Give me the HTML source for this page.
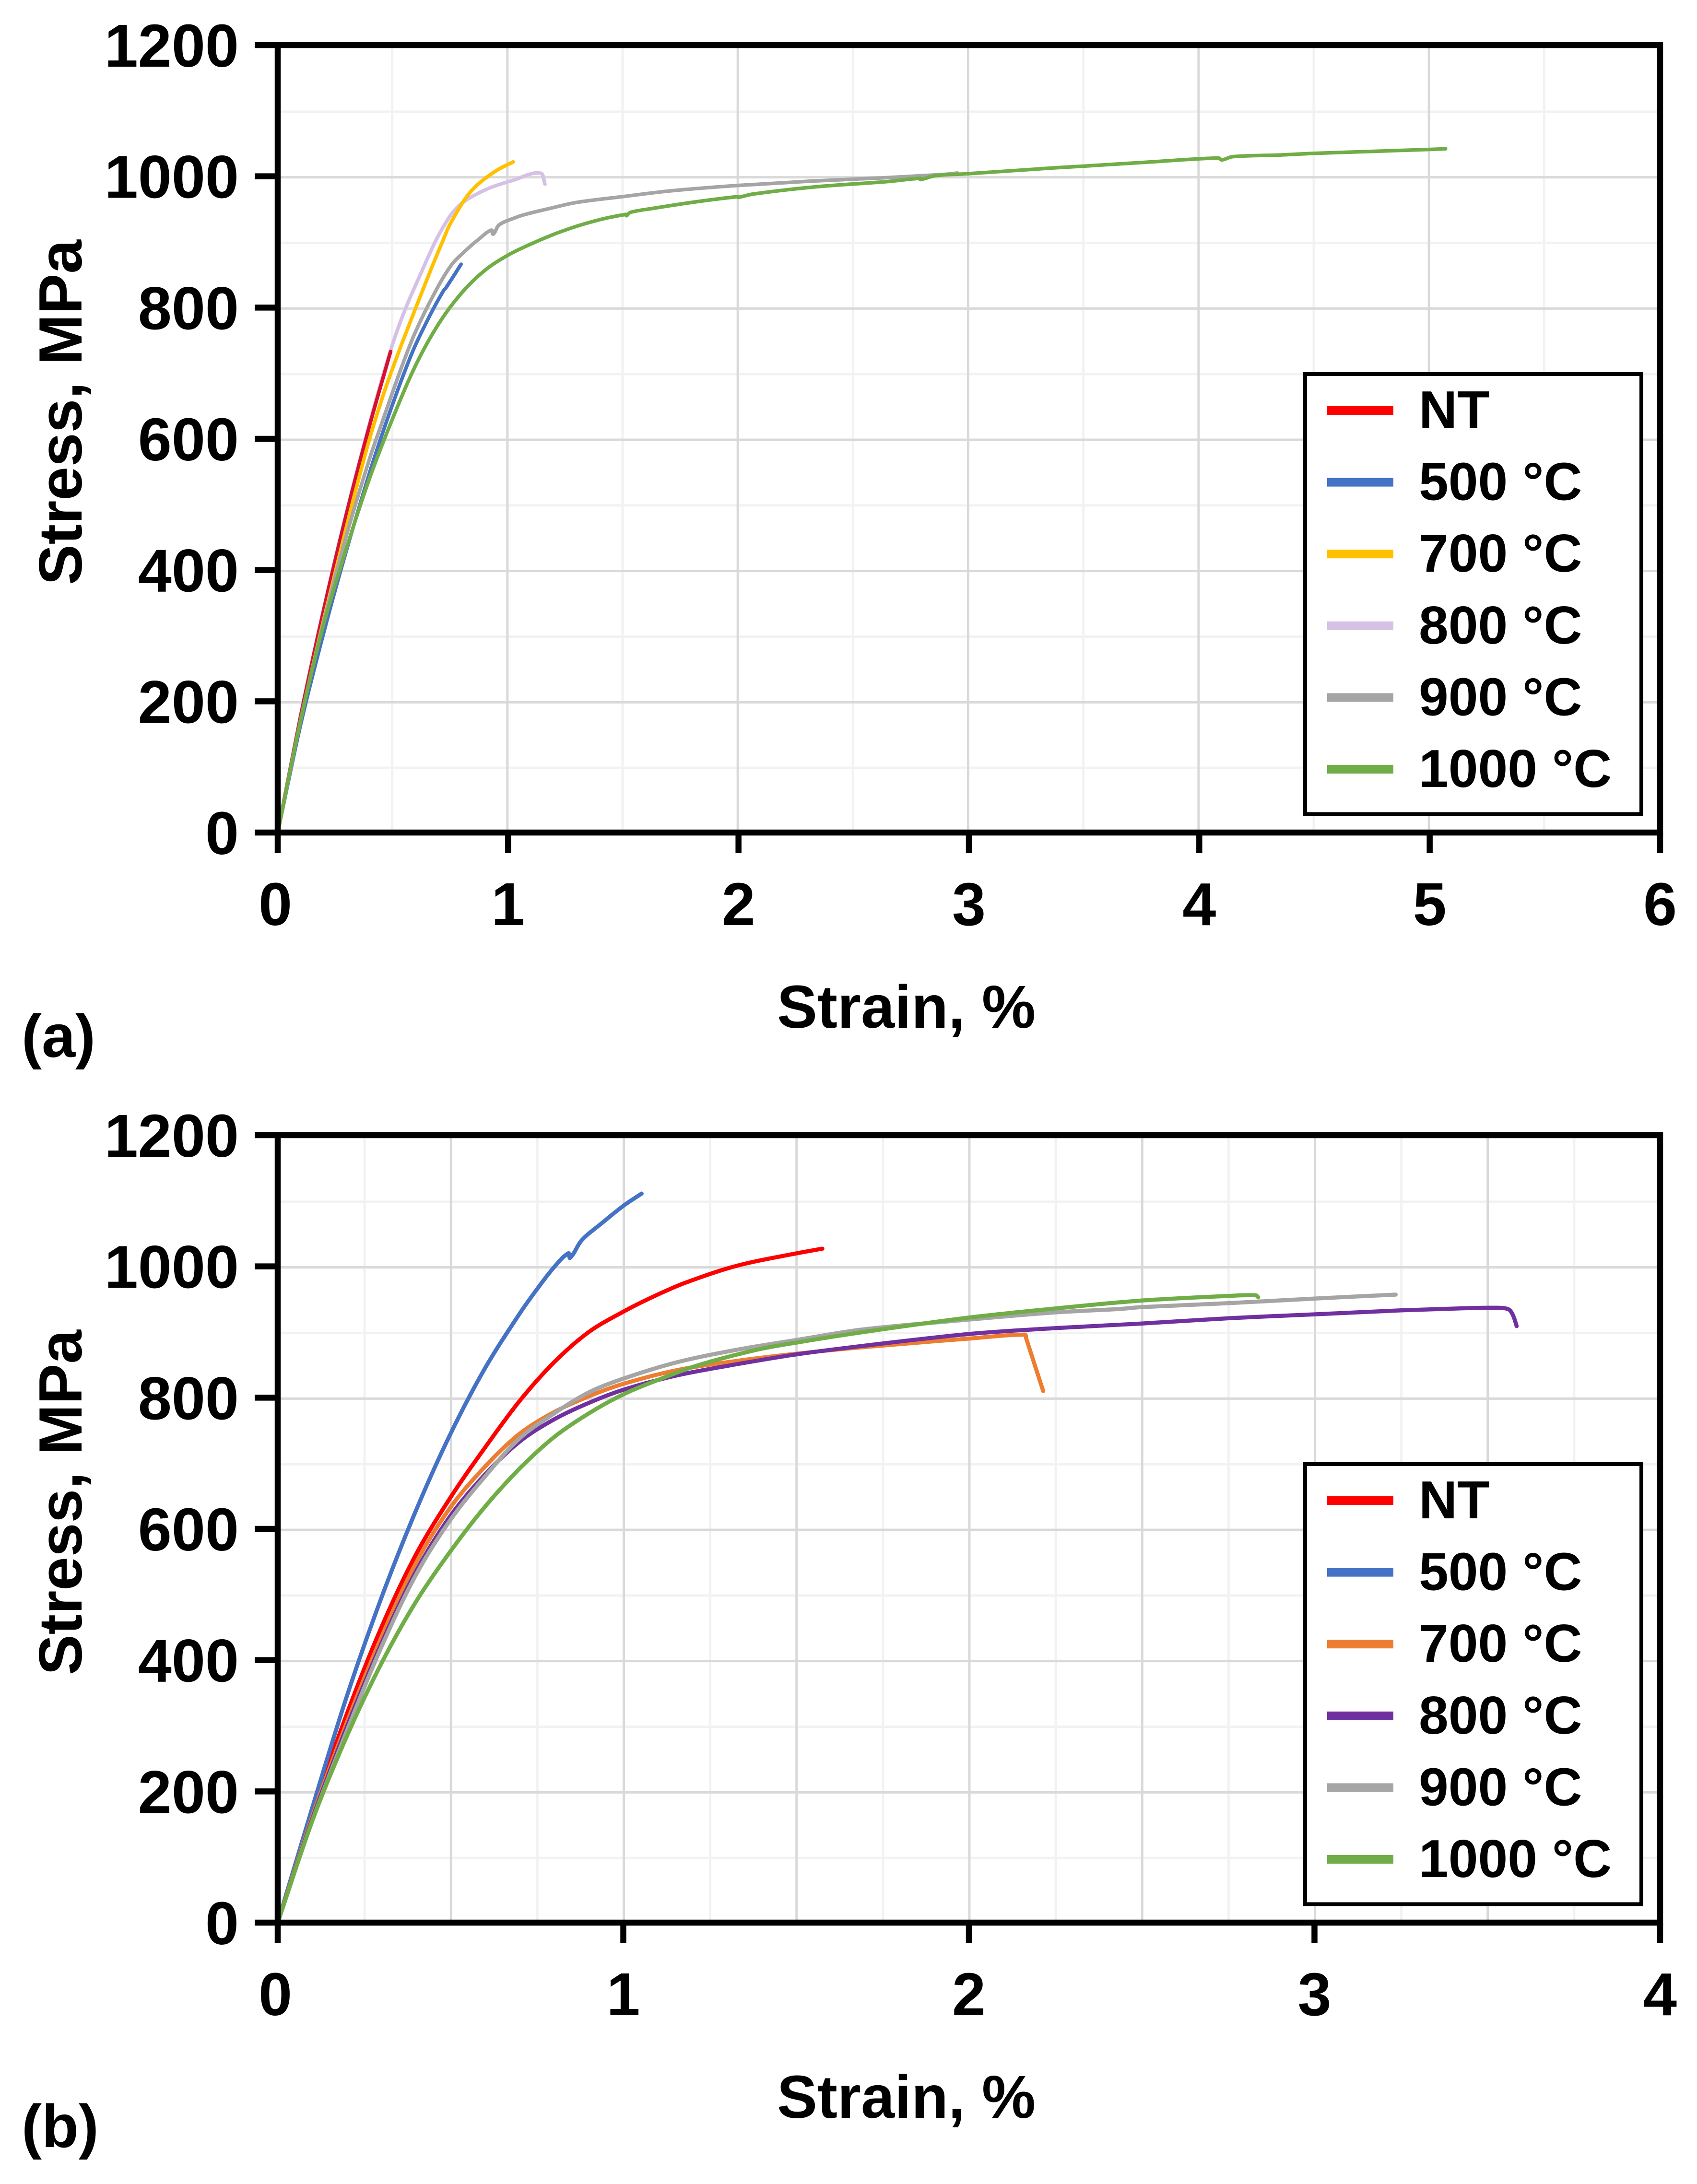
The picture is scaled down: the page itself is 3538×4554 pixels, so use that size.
<!DOCTYPE html>
<html lang="en">
<head>
<meta charset="utf-8">
<title>Stress-strain curves</title>
<style>
html,body{margin:0;padding:0;background:#fff;}
svg{display:block;}
text{font-family:"Liberation Sans",Arial,sans-serif;font-weight:bold;fill:#000;}
</style>
</head>
<body>
<svg id="chart" xmlns="http://www.w3.org/2000/svg" width="3538" height="4554" viewBox="0 0 3538 4554"></svg>
<script>
// ---------- Shared tick labels ----------
const stressTicks = [0, 200, 400, 600, 800, 1000, 1200];
const stressMinorGrid = [100, 300, 500, 700, 900, 1100];
const aStrainTicks = [0, 1, 2, 3, 4, 5, 6];
const aStrainMinorGrid = [0.5, 1.5, 2.5, 3.5, 4.5, 5.5];
const bStrainTicks = [0, 1, 2, 3, 4];
const bStrainMajorGrid = [0.5, 1, 1.5, 2, 2.5, 3, 3.5];
const bStrainMinorGrid = [0.25, 0.75, 1.25, 1.75, 2.25, 2.75, 3.25, 3.75];

// ---------- Panel (a) series ----------
const aNtStrain = [0, 0.1, 0.2, 0.3, 0.4, 0.49];
const aNtStress = [0, 178, 340, 488, 622, 733];
const a500Strain = [0, 0.1, 0.2, 0.3, 0.402, 0.466, 0.529, 0.593, 0.665, 0.72, 0.73, 0.796];
const a500Stress = [0, 165, 305, 432, 552, 620, 682, 739, 791, 826, 830, 866];
const a700Strain = [0, 0.1, 0.2, 0.3, 0.338, 0.402, 0.466, 0.529, 0.593, 0.665, 0.717, 0.745, 0.814, 0.86, 0.909, 0.96, 1.022];
const a700Stress = [0, 172, 325, 468, 521, 604, 675, 736, 794, 858, 902, 925, 966, 985, 999, 1011, 1022];
const a800Strain = [0, 0.1, 0.2, 0.3, 0.4, 0.49, 0.553, 0.625, 0.689, 0.745, 0.78, 0.823, 0.918, 1.022, 1.139, 1.16];
const a800Stress = [0, 180, 342, 490, 625, 735, 797, 855, 904, 938, 953, 965, 982, 994, 1005, 988];
const a900Strain = [0, 0.1, 0.2, 0.3, 0.4, 0.45, 0.529, 0.593, 0.673, 0.752, 0.816, 0.872, 0.927, 0.935, 0.961, 1.039, 1.085, 1.18, 1.293, 1.495, 1.71, 1.995, 2.334, 2.646, 2.896, 2.95];
const a900Stress = [0, 172, 322, 455, 571, 622, 701, 759, 817, 864, 887, 904, 918, 912, 926, 938, 943, 951, 960, 969, 978, 986, 993, 998, 1003, 1005];
const a1000Strain = [0, 0.1, 0.2, 0.3, 0.4, 0.5, 0.6, 0.7, 0.8, 0.9, 1.0, 1.1, 1.231, 1.376, 1.511, 1.514, 1.53, 1.626, 1.813, 1.995, 2.0, 2.063, 2.334, 2.646, 2.788, 2.79, 2.855, 2.996, 3.375, 3.496, 3.791, 4.083, 4.098, 4.145, 4.35, 4.499, 4.998, 5.069];
const a1000Stress = [0, 172, 318, 435, 541, 632, 713, 776, 823, 857, 880, 897, 916, 932, 942, 940, 945, 951, 961, 969, 968, 973, 984, 992, 997, 995, 1001, 1004, 1013, 1015.5, 1022, 1028, 1025, 1030, 1032.5, 1035, 1041, 1042];

// ---------- Panel (b) series ----------
const bNtStrain = [0, 0.1, 0.2, 0.3, 0.4, 0.5, 0.6, 0.7, 0.8, 0.9, 1.0, 1.087, 1.179, 1.329, 1.502, 1.576];
const bNtStress = [0, 167, 318, 450, 561, 648, 724, 795, 854, 900, 931, 954, 975, 1001, 1020, 1027];
const b500Strain = [0, 0.1, 0.2, 0.3, 0.4, 0.5, 0.6, 0.7, 0.754, 0.8, 0.841, 0.846, 0.88, 0.938, 1.002, 1.053];
const b500Stress = [0, 175, 345, 495, 628, 745, 845, 928, 968, 999, 1020, 1013, 1040, 1066, 1093, 1111];
const b700Strain = [0, 0.1, 0.2, 0.3, 0.4, 0.5, 0.6, 0.7, 0.8, 0.9, 1.0, 1.156, 1.329, 1.502, 1.695, 2.0, 2.162, 2.166, 2.215];
const b700Stress = [0, 162, 305, 435, 548, 633, 695, 745, 778, 802, 821, 842, 856, 867, 877, 890, 896, 890, 810];
const b800Strain = [0, 0.1, 0.2, 0.3, 0.4, 0.5, 0.6, 0.7, 0.8, 0.9, 1.0, 1.156, 1.329, 1.502, 1.695, 2.0, 2.252, 2.501, 2.752, 3.0, 3.251, 3.42, 3.514, 3.56, 3.574, 3.585];
const b800Stress = [0, 158, 298, 425, 535, 620, 683, 733, 767, 792, 812, 834, 851, 866, 879, 897, 906, 913, 921, 927, 933, 936, 937, 935, 926, 909];
const b900Strain = [0, 0.1, 0.2, 0.3, 0.4, 0.5, 0.6, 0.7, 0.8, 0.9, 1.0, 1.156, 1.329, 1.502, 1.695, 2.0, 2.252, 2.432, 2.501, 2.752, 3.0, 3.235];
const b900Stress = [0, 155, 292, 420, 530, 614, 680, 738, 776, 808, 829, 854, 873, 888, 904, 919, 930, 935, 938, 944, 951, 957];
const b1000Strain = [0, 0.1, 0.2, 0.3, 0.4, 0.5, 0.6, 0.7, 0.8, 0.9, 1.0, 1.1, 1.214, 1.387, 1.502, 1.695, 2.0, 2.252, 2.501, 2.752, 2.83, 2.837];
const b1000Stress = [0, 155, 284, 395, 489, 566, 634, 692, 740, 776, 805, 827, 849, 873, 884, 900, 922, 936, 948, 955, 956, 953];

// ---------- Series lists (draw order) ----------
const aLabels = ['800 °C', 'NT', '500 °C', '700 °C', '900 °C', '1000 °C'];
const aStrains = [a800Strain, aNtStrain, a500Strain, a700Strain, a900Strain, a1000Strain];
const aStresses = [a800Stress, aNtStress, a500Stress, a700Stress, a900Stress, a1000Stress];
const aColors = ['#d5c1e5', '#d90f30', '#4472c4', '#ffc000', '#a5a5a5', '#70ad47'];
const aLegendLabels = ['NT', '500 °C', '700 °C', '800 °C', '900 °C', '1000 °C'];
const aLegendColors = ['#ff0000', '#4472c4', '#ffc000', '#d5c1e5', '#a5a5a5', '#70ad47'];

const bLabels = ['NT', '500 °C', '700 °C', '800 °C', '900 °C', '1000 °C'];
const bStrains = [bNtStrain, b500Strain, b700Strain, b800Strain, b900Strain, b1000Strain];
const bStresses = [bNtStress, b500Stress, b700Stress, b800Stress, b900Stress, b1000Stress];
const bColors = ['#ff0000', '#4472c4', '#ed7d31', '#7030a0', '#a5a5a5', '#70ad47'];

const SVG_NS = 'http://www.w3.org/2000/svg';
const root = document.getElementById('chart');

function mk(parent, tag, attrs, txt) {
  const el = document.createElementNS(SVG_NS, tag);
  for (const k in attrs) el.setAttribute(k, attrs[k]);
  if (txt !== undefined) el.textContent = txt;
  parent.appendChild(el);
  return el;
}

function smoothPath(xs, ys) {
  const n = xs.length;
  const tx = [], ty = [];
  for (let i = 0; i < n; i++) {
    const a = Math.max(i - 1, 0), b = Math.min(i + 1, n - 1);
    const dx = xs[b] - xs[a], dy = ys[b] - ys[a];
    const len = Math.hypot(dx, dy) || 1;
    tx.push(dx / len);
    ty.push(dy / len);
  }
  let d = 'M' + xs[0].toFixed(1) + ' ' + ys[0].toFixed(1);
  for (let i = 0; i < n - 1; i++) {
    const seg = Math.hypot(xs[i + 1] - xs[i], ys[i + 1] - ys[i]) / 3;
    d += 'C' + (xs[i] + tx[i] * seg).toFixed(1) + ' ' + (ys[i] + ty[i] * seg).toFixed(1) + ' ' +
         (xs[i + 1] - tx[i + 1] * seg).toFixed(1) + ' ' + (ys[i + 1] - ty[i + 1] * seg).toFixed(1) + ' ' +
         xs[i + 1].toFixed(1) + ' ' + ys[i + 1].toFixed(1);
  }
  return d;
}

function drawPanel(cfg) {
  const L = 579, R = 3461, T = cfg.top, B = cfg.top + 1642;
  const xMax = cfg.xTicks[cfg.xTicks.length - 1];
  const x = v => L + v / xMax * (R - L);
  const y = v => B - v / 1200 * (B - T);
  const gx = cfg.gridDx, gy = 2;

  const g = mk(root, 'g', {});
  
  

  // Grid
  const grid = mk(g, 'g', {});
  
  
  stressMinorGrid.forEach(v => {
    const l = mk(grid, 'line', {x1: L, x2: R, y1: y(v) + gy, y2: y(v) + gy, stroke: '#f2f2f2', 'stroke-width': 5});
    
    
  });
  cfg.xMinor.forEach(v => {
    const l = mk(grid, 'line', {x1: x(v) + gx, x2: x(v) + gx, y1: T, y2: B, stroke: '#f2f2f2', 'stroke-width': 5});
    
    
  });
  stressTicks.slice(1, -1).forEach(v => {
    const l = mk(grid, 'line', {x1: L, x2: R, y1: y(v) + gy, y2: y(v) + gy, stroke: '#d9d9d9', 'stroke-width': 5});
    
    
  });
  cfg.xMajor.forEach(v => {
    const l = mk(grid, 'line', {x1: x(v) + gx, x2: x(v) + gx, y1: T, y2: B, stroke: '#d9d9d9', 'stroke-width': 5});
    
    
  });

  // Series
  cfg.strains.forEach((sx, i) => {
    const xs = sx.map(x), ys = cfg.stresses[i].map(y);
    const p = mk(g, 'path', {d: smoothPath(xs, ys), fill: 'none', stroke: cfg.colors[i], 'stroke-width': cfg.lineW, 'stroke-linejoin': 'round', 'stroke-linecap': 'round'});
    
    
  });

  // Axes frame + ticks
  const ax = mk(g, 'g', {stroke: '#000', 'stroke-width': 12.5, fill: 'none'});
  
  
  stressTicks.forEach(v => {
    const l = mk(ax, 'line', {x1: 531, x2: L, y1: y(v), y2: y(v)});
    
    
  });
  cfg.xTicks.forEach(v => {
    const l = mk(ax, 'line', {x1: x(v), x2: x(v), y1: B, y2: B + 43});
    
    
  });
  const frame = mk(ax, 'rect', {x: L, y: T, width: R - L, height: B - T});
  
  

  // Tick labels
  stressTicks.forEach(v => {
    const t = mk(g, 'text', {x: 498, y: y(v) + 45, 'text-anchor': 'end', 'font-size': 126}, String(v));
    
    
  });
  cfg.xTicks.forEach((v, i) => {
    const t = mk(g, 'text', {x: x(v) - (i === 0 ? 5 : 0), y: B + 193, 'text-anchor': 'middle', 'font-size': 126}, String(v));
    
    
  });

  // Axis titles
  const xt = mk(g, 'text', {x: 1889.5, y: B + 407, 'text-anchor': 'middle', 'font-size': 126}, 'Strain, %');
  
  
  const yMid = T + 766;
  const yt = mk(g, 'text', {x: 170, y: yMid, 'text-anchor': 'middle', 'font-size': 127, transform: 'rotate(-90 170 ' + yMid + ')'}, 'Stress, MPa');
  
  

  // Panel label
  const pl = mk(g, 'text', {x: 45, y: cfg.top + 2110, 'font-size': 126}, cfg.panelLabel);
  
  

  // Legend
  const lg = mk(g, 'g', {});
  
  
  const box = mk(lg, 'rect', {x: 2721, y: T + 686, width: 701, height: 917.5, fill: '#fff', stroke: '#000', 'stroke-width': 8});
  
  
  cfg.legendLabels.forEach((s, i) => {
    const base = T + 799 + i * 149.6;
    const sw = mk(lg, 'rect', {x: 2767, y: base - 37 - 9, width: 138, height: 18, fill: cfg.legendColors[i]});
    
    
    const t = mk(lg, 'text', {x: 2958, y: base, 'font-size': 111}, s);
    
    
  });
}

drawPanel({
  name: 'panel-a', panelLabel: '(a)', top: 94, gridDx: -1.5, lineW: 7.5,
  xTicks: aStrainTicks, xMajor: aStrainTicks.slice(1, -1), xMinor: aStrainMinorGrid,
  strains: aStrains, stresses: aStresses, colors: aColors, labels: aLabels,
  legendLabels: aLegendLabels, legendColors: aLegendColors
});
drawPanel({
  name: 'panel-b', panelLabel: '(b)', top: 2367, gridDx: 1, lineW: 8.5,
  xTicks: bStrainTicks, xMajor: bStrainMajorGrid, xMinor: bStrainMinorGrid,
  strains: bStrains, stresses: bStresses, colors: bColors, labels: bLabels,
  legendLabels: bLabels, legendColors: bColors
});
</script>
</body>
</html>
